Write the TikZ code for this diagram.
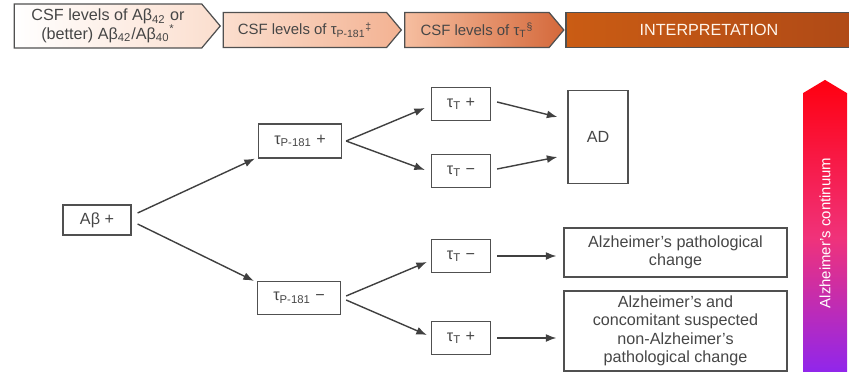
\documentclass[tikz,border=0pt]{standalone}
\usepackage{fontspec}
\setmainfont{Liberation Sans}
\definecolor{boxgray}{RGB}{80, 80, 80}
\definecolor{txtgray}{RGB}{70, 70, 70}
\definecolor{peach1}{RGB}{251, 222, 206}
\definecolor{peach2}{RGB}{243, 178, 146}
\definecolor{salmon1}{RGB}{246, 190, 160}
\definecolor{salmon2}{RGB}{212, 104, 58}
\definecolor{rust1}{RGB}{202, 92, 20}
\definecolor{rust2}{RGB}{176, 74, 22}
\definecolor{contred}{RGB}{255, 0, 16}
\definecolor{contpink}{RGB}{240, 50, 122}
\definecolor{contviolet}{RGB}{128, 36, 255}
\usetikzlibrary{shapes.symbols, shapes.arrows, arrows.meta}

\begin{document}
\begin{tikzpicture}[x=0.02cm, y=-0.02cm,
  header/.style={signal, signal to=east, signal pointer angle=100, draw=boxgray, line width=0.7pt,
    text=txtgray, align=center, inner sep=1pt, font=\fontsize{8.5}{9.5}\selectfont},
  level/.style={draw=boxgray, line width=0.7pt, text=txtgray, align=center, inner sep=2pt,
    font=\fontsize{9.2}{10.5}\selectfont},
  arr/.style={draw=black!75, line width=0.8pt, -{Latex[length=6pt, width=4.5pt]}}]
  \useasboundingbox (0,0) rectangle (849,372);

  % Header row
  \node[header, left color=white, right color=peach1, minimum width=4.12cm, minimum height=0.88cm,
    font=\fontsize{9.2}{10.5}\selectfont] (h1) at (108,26)
    {CSF levels of Aβ\textsubscript{42} or\\(better) Aβ\textsubscript{42}/Aβ\textsubscript{40}\textsuperscript{*}};
  \node[header, left color=peach1, right color=peach2, minimum width=3.56cm, minimum height=0.7cm] (h2) at (305,30)
    {CSF levels of τ\textsubscript{P-181}\textsuperscript{‡}};
  \node[header, left color=salmon1, right color=salmon2, minimum width=3.18cm, minimum height=0.7cm] (h3) at (477,30)
    {CSF levels of τ\textsubscript{T}\textsuperscript{§}};
  \node[draw=boxgray, line width=0.7pt, left color=rust1, right color=rust2, text=orange!8, minimum width=5.72cm,
    minimum height=0.7cm, font=\fontsize{9.2}{10.5}\selectfont] (h4) at (709,30) {INTERPRETATION};

  % Decision tree
  \node[level, minimum width=1.36cm, minimum height=0.6cm] (ab) at (97,220) {Aβ +};
  \node[level, minimum width=1.66cm, minimum height=0.68cm] (tpp) at (300,141) {τ\textsubscript{P-181} +};
  \node[level, minimum width=1.66cm, minimum height=0.66cm] (tpm) at (299,298) {τ\textsubscript{P-181} −};
  \node[level, minimum width=1.18cm, minimum height=0.66cm] (tt1) at (461,104) {τ\textsubscript{T} +};
  \node[level, minimum width=1.18cm, minimum height=0.66cm] (tt2) at (461,171) {τ\textsubscript{T} −};
  \node[level, minimum width=1.18cm, minimum height=0.66cm] (tt3) at (461,256) {τ\textsubscript{T} −};
  \node[level, minimum width=1.18cm, minimum height=0.66cm] (tt4) at (461,338) {τ\textsubscript{T} +};

  % Interpretation
  \node[level, minimum width=1.2cm, minimum height=1.86cm] (ad) at (598,137) {AD};
  \node[level, minimum width=4.46cm, minimum height=0.98cm] (apc) at (675.5,252.5)
    {Alzheimer’s pathological\\change};
  \node[level, minimum width=4.46cm, minimum height=1.6cm] (conc) at (675.5,331)
    {Alzheimer’s and\\concomitant suspected\\non-Alzheimer’s\\pathological change};

  % Alzheimer's continuum
  \node[single arrow, shape border rotate=90, single arrow head extend=0pt, single arrow tip angle=118,
    minimum width=0.88cm, minimum height=6.3cm, inner sep=0pt,
    top color=contred, bottom color=contviolet, middle color=contpink] (cont) at (825,244) {};
  \node[rotate=90, text=white, font=\fontsize{8.5}{10}\selectfont] (conttxt) at (825,233) {Alzheimer’s continuum};

  % Connectors
  \draw[arr] ([shift={(6,-7)}]ab.east) -- ([shift={(-3,0)}]tpp.south west);
  \draw[arr] ([shift={(6,4)}]ab.east) -- ([shift={(-3,0)}]tpm.north west);
  \draw[arr] ([shift={(4,0)}]tpp.east) -- ([shift={(-6,4)}]tt1.west);
  \draw[arr] ([shift={(4,0)}]tpp.east) -- ([shift={(-6,-1)}]tt2.west);
  \draw[arr] ([shift={(6,-2)}]tt1.east) -- ([shift={(-10,-20)}]ad.west);
  \draw[arr] ([shift={(6,-2)}]tt2.east) -- ([shift={(-10,20)}]ad.west);
  \draw[arr] ([shift={(5,-2)}]tpm.east) -- ([shift={(-4,6)}]tt3.west);
  \draw[arr] ([shift={(5,2)}]tpm.east) -- ([shift={(-4,-3)}]tt4.west);
  \draw[arr] ([shift={(6,0)}]tt3.east) -- ([shift={(-7,0)}]tt3.east -| apc.west);
  \draw[arr] ([shift={(6,0)}]tt4.east) -- ([shift={(-7,0)}]tt4.east -| conc.west);
\end{tikzpicture}
\end{document}
